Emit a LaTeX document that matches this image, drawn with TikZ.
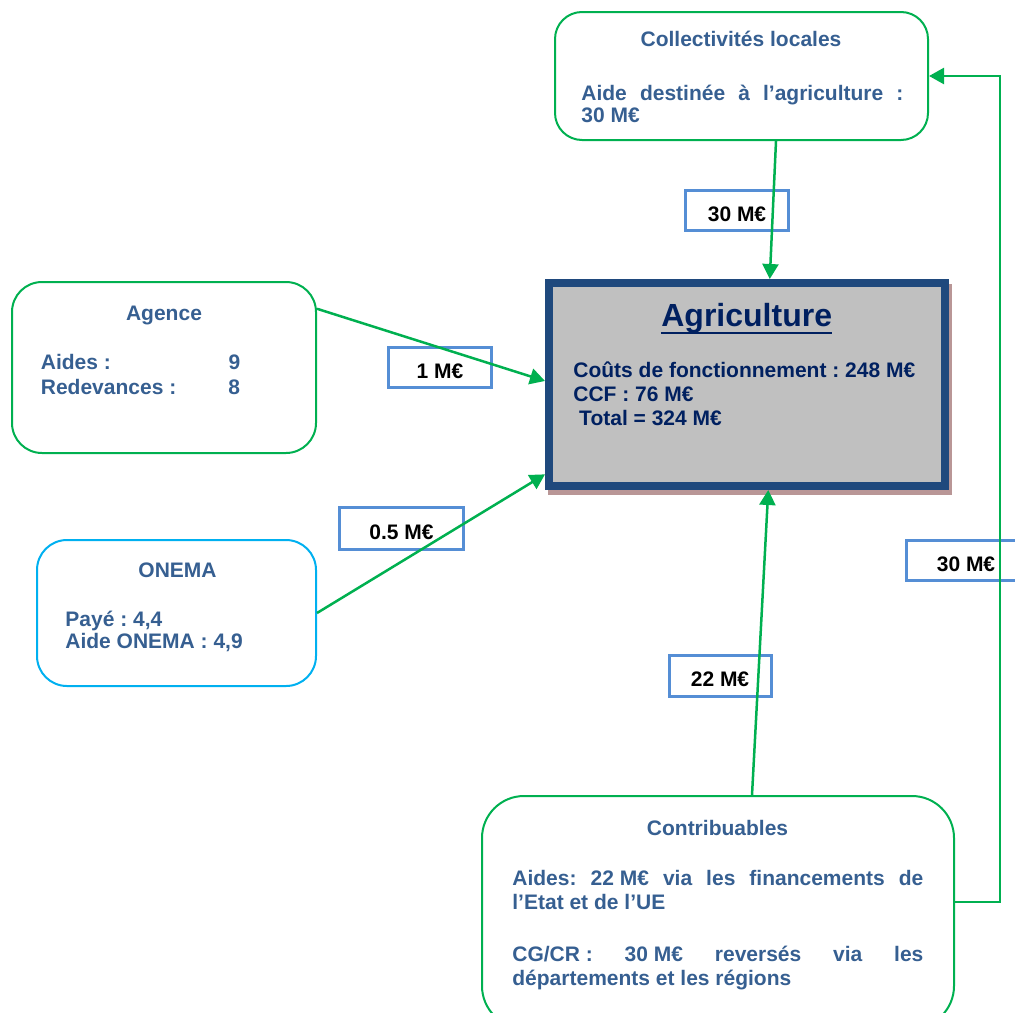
\documentclass[tikz,border=0pt]{standalone}
\usepackage{fontspec}
\setmainfont{Liberation Sans}
\usetikzlibrary{arrows.meta, positioning, calc, backgrounds}
\frenchspacing

\definecolor{grn}{RGB}{0,176,80}
\definecolor{cyn}{RGB}{0,176,240}
\definecolor{txtblue}{RGB}{54,95,145}
\definecolor{navy}{RGB}{0,32,96}
\definecolor{agriborder}{RGB}{31,73,125}
\definecolor{agrifill}{RGB}{192,192,192}
\definecolor{agrishadow}{RGB}{185,150,150}
\definecolor{lblc}{RGB}{85,142,213}

\tikzset{
  box/.style={draw=grn, line width=1pt, rectangle, inner sep=0},
  txt/.style={inner sep=0, text=txtblue, font=\fontsize{10.5}{#1}\selectfont\bfseries\frenchspacing},
  txt/.default=12pt,
  lbl/.style={draw=lblc, line width=1.5pt, inner sep=0, minimum height=20pt,
              text height=10.5pt, text depth=0pt,
              font=\fontsize{10.5}{12}\selectfont\bfseries, text=black},
  flow/.style={draw=grn, line width=1.25pt, -{Triangle[length=7.5pt,width=8pt]}}
}

\begin{document}
\begin{tikzpicture}[x=0.5pt, y=-0.5pt]
  \useasboundingbox (0,0) rectangle (1015,1012);
  \clip (0,0) rectangle (1015,1012);

  % boxes
  \node[box, rounded corners=13.5pt, minimum width=186.5pt, minimum height=64pt] (coll) at (741.5,76) {};
  \node[box, rounded corners=15pt, minimum width=152pt, minimum height=85.5pt] (agence) at (164,367.5) {};
  \node[box, draw=cyn, rounded corners=15pt, minimum width=139.5pt, minimum height=73pt] (onema) at (176.5,613) {};
  \node[box, rounded corners=21pt, minimum width=236pt, minimum height=116pt] (contrib) at (718,912) {};
  \node[draw=agriborder, fill=agrifill, line width=4pt, inner sep=0,
        minimum width=197.75pt, minimum height=101.5pt] (agri) at (746.75,384.5) {};
  \begin{scope}[on background layer]
    \fill[agrishadow] ([xshift=1.65pt,yshift=-2.5pt]agri.south west) rectangle ([xshift=1.65pt,yshift=-2.5pt]agri.north east);
  \end{scope}

  % texts (multi-line blocks sit on the baseline of their last line)
  \node[txt, anchor=base] (collT) at (741,46) {Collectivités locales};
  \node[txt=11pt, align=left, anchor=base west] (collB) at (581,122)
    {\makebox[161pt][s]{Aide destinée à l’agriculture :}\\30 M€};

  \node[txt, anchor=base] (agenceT) at (164,320) {Agence};
  \node[txt=12.5pt, align=left, anchor=base west] (agenceB) at (40.5,394)
    {\makebox[93.8pt][l]{Aides :}9\\\makebox[93.8pt][l]{Redevances :}8};

  \node[txt, anchor=base] (onemaT) at (177.5,577) {ONEMA};
  \node[txt=11pt, align=left, anchor=base west] (onemaB) at (65,648)
    {Payé : 4,4\\Aide ONEMA : 4,9};

  \node[txt, text=navy, font=\fontsize{16}{19}\selectfont\bfseries, anchor=base] (agriT) at (746.7,326.7) {Agriculture};
  \draw[navy, line width=1pt] ([yshift=-3pt]agriT.base west) -- ([yshift=-3pt]agriT.base east);
  \node[txt, text=navy, align=left, anchor=base west] (agriB) at (573,425.5)
    {Coûts de fonctionnement : 248 M€\\CCF : 76 M€\\~Total = 324 M€};

  \node[txt, anchor=base] (contribT) at (717.5,835.7) {Contribuables};
  \node[txt, align=left, anchor=base west] (contribB) at (512,985)
    {\makebox[205.5pt][s]{Aides: \mbox{22 M€} via les financements de}\\
     l’Etat et de l’UE\\[13.7pt]
     \makebox[205.5pt][s]{\mbox{CG/CR :} \mbox{30 M€} reversés via les}\\
     départements et les régions};

  % amounts
  \node[lbl, minimum width=51.5pt] (m30a) at (737,210.5) {30 M€};
  \node[lbl, minimum width=51.5pt] (m1) at (440,367.7) {1 M€};
  \node[lbl, minimum width=62pt, minimum height=21pt] (m05) at (401.5,528.5) {0.5 M€};
  \node[lbl, minimum width=59.5pt] (m30b) at (966,560.5) {30 M€};
  \node[lbl, minimum width=51pt, minimum height=20.5pt] (m22) at (720,675.8) {22 M€};

  % flows
  \draw[flow] ($(coll.south)+(34.5,0)$) -- ($(agri.north)+(23,0)$);
  \draw[flow] (agence.21) -- (agri.179);
  \draw[flow] (onema.east) -- (agri.204);
  \draw[flow] ($(contrib.north)+(34,0)$) -- ($(agri.south)+(21.5,0)$);
  \draw[flow] ($(contrib.east)+(0,-10)$) -- ++(45,0) |- (coll.east);
\end{tikzpicture}
\end{document}
